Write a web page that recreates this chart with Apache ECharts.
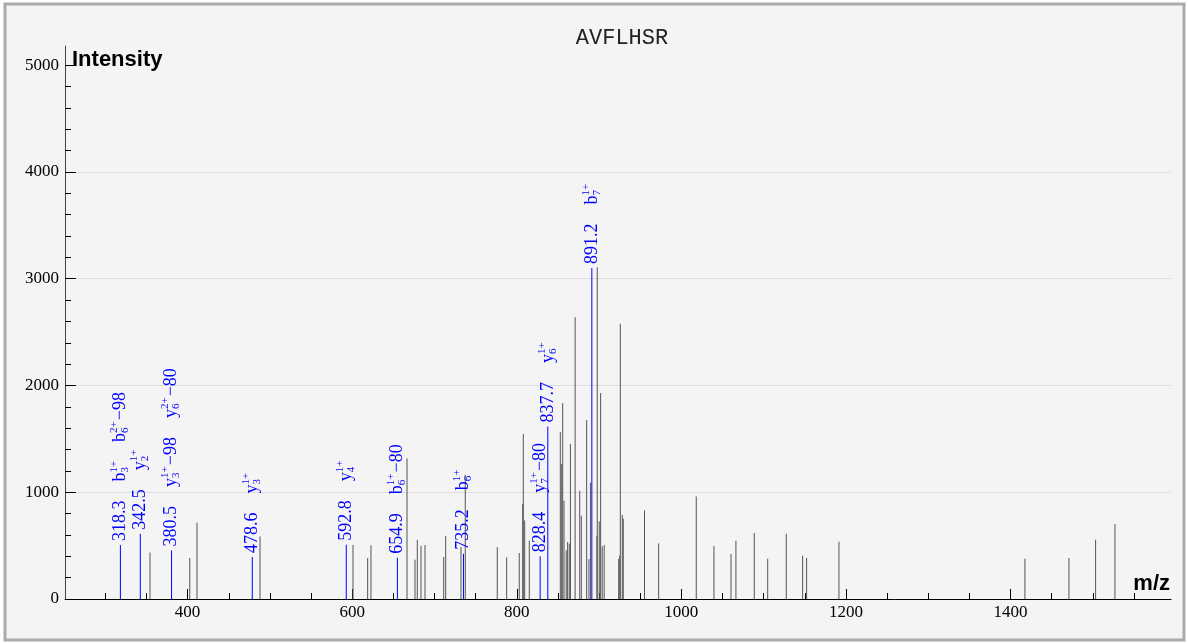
<!DOCTYPE html>
<html><head><meta charset="utf-8">
<script src="https://cdn.jsdelivr.net/npm/echarts@6/dist/echarts.min.js"></script>
<style>html,body{margin:0;padding:0;background:#fff}#c{width:1188px;height:643px}</style>
</head><body><div id="c"></div>
<script>
// ---------- data ----------
const title = 'AVFLHSR';
const xMajor = [400, 600, 800, 1000, 1200, 1400];
const xMinor = [300, 350, 400, 450, 500, 550, 600, 650, 700, 750, 800, 850, 900, 950, 1000, 1050, 1100, 1150, 1200, 1250, 1300, 1350, 1400, 1450, 1500, 1550];
const yMajor = [0, 1000, 2000, 3000, 4000, 5000];
const yMinor = [0, 200, 400, 600, 800, 1000, 1200, 1400, 1600, 1800, 2000, 2200, 2400, 2600, 2800, 3000, 3200, 3400, 3600, 3800, 4000, 4200, 4400, 4600, 4800, 5000];

// unannotated peaks
const peakMz = [354.3, 402.6, 411.4, 488.0, 601.0, 618.8, 622.8, 666.6, 676.3, 679.1, 683.6, 688.5, 711.2, 713.6, 732.2, 737.4, 776.3, 787.7, 803.0, 807.2, 807.9, 809.6, 815.2, 852.9, 854.6, 855.8, 857.4, 860.1, 861.8, 863.8, 865.2, 870.9, 876.5, 878.4, 884.9, 887.7, 889.5, 897.4, 897.8, 900.2, 901.9, 903.8, 906.2, 923.8, 925.1, 925.8, 928.2, 929.4, 955.2, 972.4, 1018.1, 1039.6, 1060.3, 1066.3, 1088.6, 1104.9, 1127.5, 1147.4, 1152.2, 1191.5, 1417.5, 1471.0, 1503.4, 1526.9];
const peakIntensity = [436, 384, 717, 586, 506, 384, 502, 1317, 368, 555, 499, 505, 393, 590, 487, 1164, 487, 390, 430, 889, 1545, 736, 546, 1563, 1264, 1835, 920, 455, 534, 518, 1451, 2640, 1014, 780, 1676, 374, 1090, 593, 3108, 727, 1929, 493, 506, 376, 405, 2578, 789, 752, 830, 520, 961, 496, 421, 546, 618, 377, 611, 405, 384, 536, 377, 384, 555, 702];

// annotated peaks
const annMz = [318.3, 342.5, 380.5, 478.6, 592.8, 654.9, 735.2, 828.4, 837.7, 891.2];
const annIntensity = [505, 611, 455, 393, 508, 387, 424, 400, 1616, 3100];
// [ion, subscript, superscript, neutral loss]
const annIons = [
  [['b', '3', '1+', ''], ['b', '6', '2+', '\u221298']],
  [['y', '2', '1+', '']],
  [['y', '3', '1+', '\u221298'], ['y', '6', '2+', '\u221280']],
  [['y', '3', '1+', '']],
  [['y', '4', '1+', '']],
  [['b', '6', '1+', '\u221280']],
  [['b', '6', '1+', '']],
  [['y', '7', '1+', '\u221280']],
  [['y', '6', '1+', '']],
  [['b', '7', '1+', '']]
];

// ---------- rendering ----------
const SERIF_CSS = '"Liberation Serif", "Times New Roman", serif';
const LABEL_FONT = '18px ' + SERIF_CSS;
const SCRIPT_FONT = '11px ' + SERIF_CSS;
const BLUE = '#0000ff';
const mctx = document.createElement('canvas').getContext('2d');
function tw(s, font) { mctx.font = font; return mctx.measureText(s).width; }
function txt(s, x, y, font) {
  return { type: 'text', x: x, y: y, silent: true,
    style: { text: s, font: font, fill: BLUE, textFill: BLUE, align: 'left', textAlign: 'left',
             verticalAlign: 'middle', textVerticalAlign: 'middle' } };
}

function renderPeak(params, api) {
  const b = api.coord([api.value(0), 0]);
  const t = api.coord([api.value(0), api.value(1)]);
  return { type: 'line', shape: { x1: b[0], y1: b[1], x2: t[0], y2: t[1] },
           style: { stroke: '#555', lineWidth: 1 } };
}

function renderAnn(params, api) {
  const mz = api.value(0), it = api.value(1), idx = api.value(2);
  const b = api.coord([mz, 0]);
  const t = api.coord([mz, it]);
  const kids = [];
  let cur = 4;
  const numStr = annMz[idx].toFixed(1);
  kids.push(txt(numStr, cur, 0, LABEL_FONT));
  cur += tw(numStr, LABEL_FONT) + 19;
  annIons[idx].forEach(function (ion) {
    const base = ion[0], sub = ion[1], sup = ion[2], loss = ion[3];
    kids.push(txt(base, cur, 0, LABEL_FONT));
    cur += tw(base, LABEL_FONT);
    kids.push(txt(sup, cur, -6, SCRIPT_FONT));
    kids.push(txt(sub, cur, 5, SCRIPT_FONT));
    cur += Math.max(tw(sup, SCRIPT_FONT), tw(sub, SCRIPT_FONT));
    if (loss) {
      cur += 1;
      kids.push(txt(loss, cur, 0, LABEL_FONT));
      cur += tw(loss, LABEL_FONT);
    }
    cur += 19;
  });
  return { type: 'group', children: [
    { type: 'line', shape: { x1: b[0], y1: b[1], x2: t[0], y2: t[1] }, style: { stroke: BLUE, lineWidth: 1 } },
    { type: 'group', x: t[0], y: t[1], rotation: Math.PI / 2, children: kids }
  ] };
}

const X_MIN = 251, X_MAX = 1595, Y_MAX = 5180;
const tickLabelStyle = { fontFamily: 'Liberation Serif', fontSize: 17, color: '#000',
  formatter: function (v) { return String(v); } };

const chart = echarts.init(document.getElementById('c'), null, { renderer: 'canvas' });
chart.setOption({
  backgroundColor: '#ffffff',
  animation: false,
  title: {
    text: title, left: 617, top: 22, textAlign: 'center',
    textStyle: { fontFamily: 'Liberation Mono', fontSize: 22, fontWeight: 'normal', color: '#222' }
  },
  graphic: [
    { type: 'rect', z: -100, silent: true, shape: { x: 5, y: 4, width: 1179, height: 636 },
      style: { fill: '#f4f4f4', stroke: '#aaaaaa', lineWidth: 3 } },
    { type: 'text', x: 72, y: 60, z: 10, silent: true,
      style: { text: 'Intensity', font: 'bold 22px "Liberation Sans", Arial, sans-serif', fill: '#000', verticalAlign: 'middle' } },
    { type: 'text', x: 1170, y: 584, z: 10, silent: true,
      style: { text: 'm/z', font: 'bold 22px "Liberation Sans", Arial, sans-serif', fill: '#000', align: 'right', verticalAlign: 'middle' } }
  ],
  grid: { left: 65, right: 17, top: 46, bottom: 44, containLabel: false },
  xAxis: [
    { type: 'value', min: X_MIN, max: X_MAX, position: 'bottom',
      axisLine: { show: true, onZero: false, lineStyle: { color: '#000', width: 1 } },
      axisTick: { show: true, inside: true, length: 10, customValues: xMajor, lineStyle: { color: '#000' } },
      axisLabel: Object.assign({ show: true, customValues: xMajor, margin: 5 }, tickLabelStyle),
      splitLine: { show: false } },
    { type: 'value', min: X_MIN, max: X_MAX, position: 'bottom',
      axisLine: { show: false, onZero: false },
      axisTick: { show: true, inside: true, length: 6, customValues: xMinor, lineStyle: { color: '#000' } },
      axisLabel: { show: false },
      splitLine: { show: false } }
  ],
  yAxis: [
    { type: 'value', min: 0, max: Y_MAX, interval: 1000, position: 'left',
      axisLine: { show: true, onZero: false, lineStyle: { color: '#444', width: 1 } },
      axisTick: { show: true, inside: true, length: 11, customValues: yMajor, lineStyle: { color: '#000' } },
      axisLabel: Object.assign({ show: true, customValues: yMajor, margin: 6 }, tickLabelStyle),
      splitLine: { show: true, showMinLine: false, showMaxLine: false, lineStyle: { color: '#dddddd', width: 1 } } },
    { type: 'value', min: 0, max: Y_MAX, position: 'left',
      axisLine: { show: false, onZero: false },
      axisTick: { show: true, inside: true, length: 6, customValues: yMinor, lineStyle: { color: '#000' } },
      axisLabel: { show: false },
      splitLine: { show: false } }
  ],
  series: [
    { type: 'custom', name: 'peaks', xAxisIndex: 0, yAxisIndex: 0, silent: true, z: 3,
      renderItem: renderPeak,
      data: peakMz.map(function (m, i) { return [m, peakIntensity[i]]; }) },
    { type: 'custom', name: 'annotated', xAxisIndex: 0, yAxisIndex: 0, silent: true, z: 4,
      renderItem: renderAnn,
      data: annMz.map(function (m, i) { return [m, annIntensity[i], i]; }) }
  ]
});
</script></body></html>
